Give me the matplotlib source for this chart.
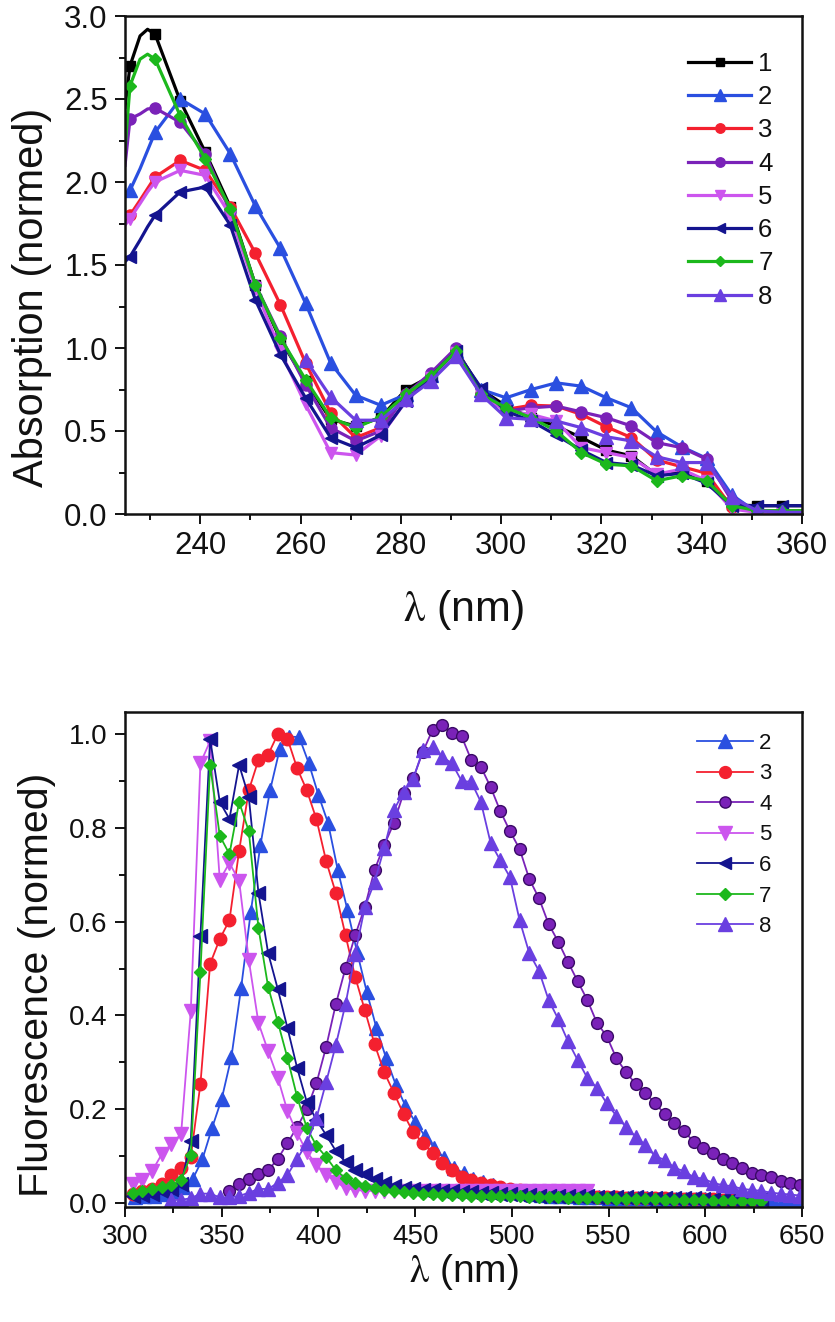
import numpy as np
import matplotlib
matplotlib.use("Agg")
import matplotlib.pyplot as plt

plt.rcParams["font.family"] = ["Liberation Sans", "DejaVu Sans"]
plt.rcParams["mathtext.fontset"] = "stix"

W, H = 835, 1322
INK = "#111111"
LABELS = ["1", "2", "3", "4", "5", "6", "7", "8"]
COLORS = ["#000000", "#2a4fe0", "#f4202f", "#7a22b8", "#cc55ee", "#14148f", "#1cb81c", "#6a3fe0"]
MARKERS = ["s", "^", "o", "o", "v", "<", "D", "^"]
TOP_MS = [7, 9.5, 8, 8, 9, 8, 6, 9.5]
LOW_MS = [7, 10, 9, 8.5, 10, 9.5, 6.5, 10]

# absorption, read at the marker grid (226, 231 ... 356) plus the end of the axis
abs_x = [226, 231, 236, 241, 246, 251, 256, 261, 266, 271, 276, 281, 286, 291, 296, 301, 306, 311,
         316, 321, 326, 331, 336, 341, 346, 351, 356, 360]
abs_1 = [2.70, 2.89, 2.49, 2.18, 1.85, 1.38, 1.05, 0.80, 0.57, 0.53, 0.58, 0.75, 0.83, 0.99, 0.75, 0.65, 0.58, 0.53,
         0.46, 0.385, 0.35, 0.235, 0.25, 0.20, 0.055, 0.05, 0.05, 0.05]
abs_2 = [1.95, 2.30, 2.50, 2.41, 2.17, 1.855, 1.60, 1.27, 0.91, 0.715, 0.655, 0.72, 0.84, 0.98, 0.75, 0.70, 0.75, 0.79,
         0.77, 0.70, 0.64, 0.495, 0.405, 0.335, 0.115, 0.01, 0.01, 0.01]
abs_3 = [1.80, 2.03, 2.13, 2.07, 1.85, 1.57, 1.26, 0.91, 0.61, 0.46, 0.52, 0.72, 0.83, 0.98, 0.72, 0.63, 0.655, 0.65,
         0.60, 0.525, 0.46, 0.325, 0.285, 0.245, 0.04, 0.02, 0.02, 0.02]
abs_4 = [2.38, 2.445, 2.36, 2.17, 1.82, 1.38, 1.07, 0.78, 0.52, 0.44, 0.50, 0.72, 0.85, 1.00, 0.72, 0.62, 0.64, 0.65,
         0.615, 0.58, 0.53, 0.43, 0.40, 0.33, 0.08, 0.01, 0.01, 0.01]
abs_5 = [1.78, 2.00, 2.07, 2.04, 1.80, 1.36, 0.98, 0.66, 0.37, 0.355, 0.47, 0.68, 0.82, 0.97, 0.72, 0.62, 0.60, 0.56,
         0.40, 0.37, 0.34, 0.24, 0.27, 0.20, 0.03, 0.01, 0.01, 0.01]
abs_6 = [1.55, 1.80, 1.94, 1.97, 1.74, 1.29, 0.96, 0.70, 0.46, 0.40, 0.475, 0.68, 0.83, 0.98, 0.76, 0.62, 0.56, 0.475,
         0.385, 0.31, 0.295, 0.23, 0.245, 0.185, 0.05, 0.05, 0.05, 0.05]
abs_7 = [2.58, 2.74, 2.40, 2.14, 1.84, 1.38, 1.06, 0.81, 0.58, 0.52, 0.585, 0.72, 0.83, 0.98, 0.72, 0.64, 0.58, 0.50,
         0.37, 0.30, 0.29, 0.20, 0.23, 0.20, 0.05, 0.02, 0.02, 0.02]
abs_8 = [0.93, 0.705, 0.565, 0.565, 0.69, 0.80, 0.95, 0.72, 0.58, 0.57, 0.56,
         0.52, 0.465, 0.44, 0.345, 0.31, 0.31, 0.10, 0.02, 0.01, 0.01]

# points between the markers at the short wavelength end, where the curves bend fast
abs_head_x = [225, 228, 229.5]
abs_head_1 = [2.45, 2.88, 2.92]
abs_head_2 = [1.92, 2.08, 2.19]
abs_head_3 = [1.76, 1.89, 1.96]
abs_head_4 = [2.10, 2.41, 2.44]
abs_head_5 = [1.74, 1.87, 1.94]
abs_head_6 = [1.52, 1.65, 1.73]
abs_head_7 = [2.20, 2.74, 2.77]

# fluorescence, one value per marker, 5 nm apart from the start wavelength
fl_start = [305, 304, 354, 304, 304, 304, 324]
fl_2 = [0.012, 0.014, 0.016, 0.02, 0.025, 0.035, 0.051, 0.093, 0.16, 0.222, 0.311, 0.458, 0.62, 0.763, 0.88, 0.968,
        0.994, 0.994, 0.938, 0.87, 0.81, 0.71, 0.625, 0.535, 0.45, 0.373, 0.309, 0.252, 0.207, 0.173, 0.143, 0.117,
        0.096, 0.075, 0.064, 0.052, 0.045, 0.038, 0.032, 0.028, 0.024, 0.02, 0.018, 0.016, 0.015, 0.014, 0.013,
        0.012, 0.012, 0.011, 0.011, 0.01, 0.01, 0.01, 0.009, 0.009, 0.009, 0.008, 0.008, 0.008, 0.007, 0.007, 0.007,
        0.006, 0.006, 0.006, 0.006, 0.005, 0.005, 0.005]
fl_3 = [0.02, 0.025, 0.03, 0.04, 0.06, 0.075, 0.098, 0.254, 0.51, 0.563, 0.603, 0.751, 0.88, 0.945, 0.956, 1.0, 0.99,
        0.927, 0.88, 0.818, 0.729, 0.661, 0.571, 0.482, 0.411, 0.339, 0.279, 0.235, 0.19, 0.151, 0.128, 0.107, 0.085,
        0.07, 0.056, 0.05, 0.043, 0.038, 0.034, 0.03, 0.027, 0.024, 0.022, 0.02, 0.018, 0.016, 0.015, 0.014, 0.013,
        0.012, 0.012, 0.011, 0.011, 0.01, 0.01, 0.01, 0.009, 0.009, 0.008, 0.008, 0.008, 0.007, 0.007, 0.007, 0.006]
fl_4 = [0.026, 0.04, 0.051, 0.062, 0.07, 0.094, 0.128, 0.162, 0.2, 0.256, 0.333, 0.424, 0.501, 0.571, 0.631, 0.71,
        0.763, 0.81, 0.874, 0.906, 0.962, 1.009, 1.019, 1.002, 0.995, 0.945, 0.93, 0.887, 0.836, 0.793, 0.755, 0.691,
        0.65, 0.595, 0.557, 0.514, 0.473, 0.433, 0.384, 0.356, 0.309, 0.279, 0.254, 0.235, 0.213, 0.19, 0.171, 0.154,
        0.13, 0.117, 0.107, 0.094, 0.085, 0.075, 0.064, 0.06, 0.055, 0.047, 0.043, 0.038]
fl_5 = [0.04, 0.05, 0.068, 0.104, 0.126, 0.147, 0.409, 0.938, 0.985, 0.689, 0.725, 0.687, 0.518, 0.384, 0.324, 0.267,
        0.196, 0.149, 0.109, 0.081, 0.06, 0.045, 0.032, 0.028, 0.026, 0.026, 0.026, 0.026, 0.026, 0.026, 0.026, 0.026,
        0.026, 0.026, 0.026, 0.026, 0.026, 0.026, 0.026, 0.026, 0.026, 0.026, 0.026, 0.026, 0.026, 0.026, 0.026, 0.026]
fl_6 = [0.015, 0.018, 0.02, 0.025, 0.03, 0.04, 0.132, 0.569, 0.99, 0.855, 0.819, 0.934, 0.866, 0.661, 0.533, 0.456,
        0.373, 0.288, 0.215, 0.177, 0.145, 0.111, 0.087, 0.07, 0.062, 0.051, 0.043, 0.036, 0.032, 0.03, 0.028, 0.027,
        0.026, 0.025, 0.024, 0.023, 0.022, 0.021, 0.02, 0.019, 0.018, 0.017, 0.016, 0.016, 0.015, 0.015, 0.014, 0.014,
        0.013, 0.013, 0.012, 0.012, 0.012, 0.011, 0.011, 0.011, 0.01, 0.01, 0.01, 0.009, 0.009, 0.009, 0.008, 0.008,
        0.008, 0.008]
fl_7 = [0.022, 0.026, 0.03, 0.034, 0.038, 0.049, 0.102, 0.493, 0.934, 0.783, 0.744, 0.855, 0.793, 0.586, 0.461, 0.386,
        0.309, 0.226, 0.16, 0.122, 0.098, 0.07, 0.053, 0.043, 0.036, 0.032, 0.028, 0.026, 0.024, 0.022, 0.02, 0.019,
        0.018, 0.017, 0.017, 0.016, 0.016, 0.015, 0.015, 0.014, 0.014, 0.013, 0.013, 0.012, 0.012, 0.011, 0.011, 0.01,
        0.01, 0.01, 0.009, 0.009, 0.008, 0.008, 0.008, 0.007, 0.007, 0.006, 0.006, 0.006, 0.005, 0.005, 0.004, 0.004,
        0.004, 0.004]
fl_8 = [0.006, 0.007, 0.01, 0.02, 0.02, 0.012, 0.012, 0.015, 0.022, 0.03, 0.03, 0.043, 0.06, 0.094, 0.128, 0.181,
        0.258, 0.337, 0.424, 0.531, 0.631, 0.684, 0.757, 0.838, 0.876, 0.904, 0.966, 0.972, 0.951, 0.938, 0.90, 0.898,
        0.855, 0.768, 0.731, 0.695, 0.603, 0.533, 0.495, 0.433, 0.392, 0.345, 0.305, 0.267, 0.245, 0.213, 0.186,
        0.162, 0.141, 0.124, 0.10, 0.092, 0.075, 0.068, 0.055, 0.052, 0.043, 0.038, 0.036, 0.03, 0.028, 0.026, 0.022,
        0.02, 0.018, 0.016]


def panel(left, top, right, bottom):
    ax = fig.add_axes([left / W, 1 - bottom / H, (right - left) / W, (bottom - top) / H])
    for s in ax.spines.values():
        s.set_linewidth(1.8)
        s.set_color(INK)
    return ax


def style(ax, size, xmajor, xminor, ymajor, yminor):
    ax.set_xticks(xmajor)
    ax.set_xticks(xminor, minor=True)
    ax.set_yticks(ymajor)
    ax.set_yticks(yminor, minor=True)
    ax.tick_params(which="major", length=7.5, width=1.4, color=INK, labelsize=size, labelcolor=INK, pad=5)
    ax.tick_params(which="minor", length=4.2, width=1.4, color=INK)


fig = plt.figure(figsize=(W / 100, H / 100), dpi=100, facecolor="white")

# upper panel
ax = panel(125, 16, 802, 514)
abs_series = [abs_1, abs_2, abs_3, abs_4, abs_5, abs_6, abs_7]
abs_heads = [abs_head_1, abs_head_2, abs_head_3, abs_head_4, abs_head_5, abs_head_6, abs_head_7]
for i, (vals, head) in enumerate(zip(abs_series, abs_heads)):
    x = abs_head_x[:1] + abs_x[:1] + abs_head_x[1:] + abs_x[1:]
    y = head[:1] + vals[:1] + head[1:] + vals[1:]
    marked = [v in abs_x[:-1] for v in x]
    ax.plot(x, y, color=COLORS[i], marker=MARKERS[i], ms=TOP_MS[i], lw=2.3, markevery=marked, label=LABELS[i])
ax.plot(abs_x[7:], abs_8, color=COLORS[7], marker=MARKERS[7], ms=TOP_MS[7], lw=2.3,
        markevery=list(range(len(abs_8) - 1)), label=LABELS[7])
ax.set_xlim(225, 360)
ax.set_ylim(0, 3)
style(ax, 22.5, range(240, 361, 20), range(230, 361, 20), np.arange(0, 3.01, 0.5), np.arange(0.25, 3, 0.5))
ax.set_xlabel(r"$\mathrm{\lambda}$ (nm)", fontsize=31, color=INK, labelpad=19)
ax.set_ylabel("Absorption (normed)", fontsize=30, color=INK)
ax.yaxis.set_label_coords(-0.108, 0.435)
handles, labels = ax.get_legend_handles_labels()
ax.legend(handles, labels, loc="upper left", bbox_to_anchor=(563 / 677, 0.928), frameon=False, fontsize=18.5,
          numpoints=1, handlelength=2.46, handletextpad=0.27, labelspacing=0.36, borderpad=0, borderaxespad=0,
          markerscale=0.85, labelcolor=INK)

# lower panel
ax = panel(125, 712, 802, 1207)
fl_series = [fl_2, fl_3, fl_4, fl_5, fl_6, fl_7]
for i, (vals, start) in enumerate(zip(fl_series, fl_start), start=1):
    x = start + 5 * np.arange(len(vals))
    ax.plot(x, vals, color=COLORS[i], marker=MARKERS[i], lw=1.3, ms=LOW_MS[i],
            mec="#3a0a66" if i == 3 else COLORS[i], label=LABELS[i])
x = fl_start[6] + 5 * np.arange(len(fl_8))
ax.plot(x, fl_8, color=COLORS[7], marker=MARKERS[7], lw=1.3, ms=LOW_MS[7], label=LABELS[7])
ax.set_xlim(300, 650)
ax.set_ylim(-0.0085, 1.047)
style(ax, 20, range(300, 651, 50), range(325, 651, 50), np.arange(0, 1.01, 0.2), np.arange(0.1, 1, 0.2))
ax.set_xlabel(r"$\mathrm{\lambda}$ (nm)", fontsize=28, color=INK, labelpad=1)
ax.set_ylabel("Fluorescence (normed)", fontsize=29.5, color=INK)
ax.yaxis.set_label_coords(-0.102, 0.448)
handles, labels = ax.get_legend_handles_labels()
ax.legend(handles, labels, loc="upper left", bbox_to_anchor=(572 / 677, 0.958), frameon=False, fontsize=16,
          numpoints=1, handlelength=2.5, handletextpad=0.3, labelspacing=0.43, borderpad=0, borderaxespad=0,
          markerscale=0.95, labelcolor=INK)

fig.savefig("out.png", dpi=100, facecolor="white")
